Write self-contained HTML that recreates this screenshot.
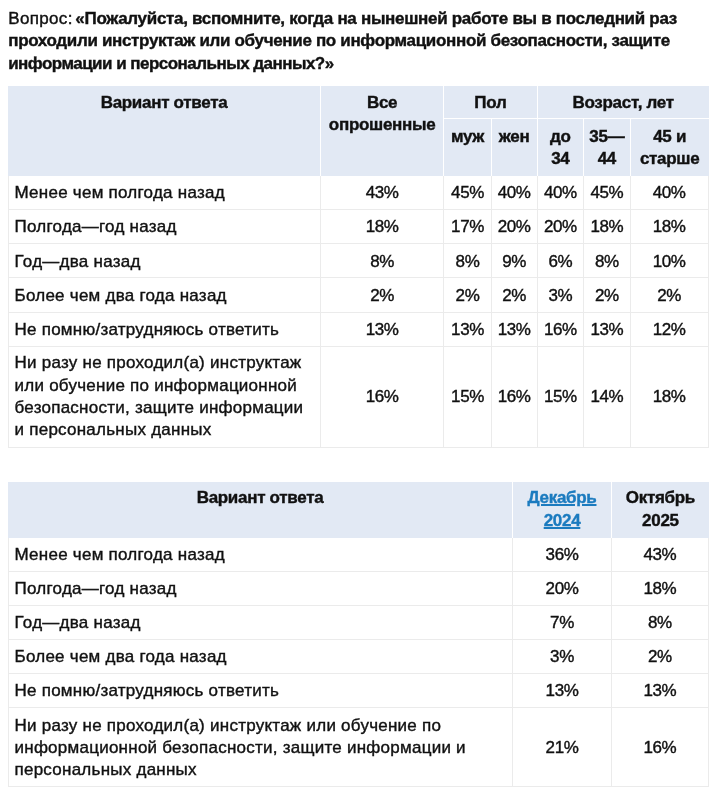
<!DOCTYPE html>
<html lang="ru">
<head>
<meta charset="utf-8">
<style>
html,body{margin:0;padding:0;background:#fff;}
#wrap{position:absolute;left:0;top:0;width:720px;height:800px;will-change:transform;}
body{width:720px;height:800px;overflow:hidden;position:relative;
  font-family:"Liberation Sans","DejaVu Sans",sans-serif;font-size:17px;line-height:22.4px;color:#111;-webkit-text-stroke-width:0.4px;}
.q{position:absolute;left:8.2px;top:8px;width:700px;margin:0;}
.q .l1{letter-spacing:-0.305px;}
.q .l2{letter-spacing:-0.33px;}
.q .l3{letter-spacing:-0.53px;}
.v{letter-spacing:0.35px;margin-right:-2.2px;}
table{position:absolute;border-collapse:separate;border-spacing:0;table-layout:fixed;}
th{background:#e2e9f4;font-weight:bold;white-space:nowrap;vertical-align:top;text-align:center;padding:0 4px;letter-spacing:-0.3px;border-right:1px solid #fff;}
th.last{border-right:0;}
th.r1{border-bottom:1px solid #fff;}
td{border-right:1px solid #ebebeb;border-bottom:1px solid #ebebeb;padding:2px 4px 0;letter-spacing:-0.4px;vertical-align:middle;text-align:center;}
td.l{text-align:left;padding-left:5.5px;letter-spacing:0.25px;border-left:1px solid #ebebeb;}
#t1{left:8px;top:86px;width:700.8px;}
#t2{left:8px;top:482px;width:700.8px;}
.p1{padding-top:5.5px;}
.p2{padding-top:6.6px;}
.p3{padding-top:5.4px;}
tr.b{height:34.14px;}
tr.b4{height:101.5px;}
tr.b4 td{padding-top:0.4px;}
tr.b3{height:79.3px;}
a{color:#1b7bbf;text-decoration:underline;text-decoration-thickness:1.6px;text-underline-offset:1.2px;}
</style>
</head>
<body>
<div id="wrap">
<p class="q"><span class="v">Вопрос:</span> <b class="l1">«Пожалуйста, вспомните, когда на нынешней работе вы в последний раз</b><br><b class="l2">проходили инструктаж или обучение по информационной безопасности, защите</b><br><b class="l3">информации и персональных данных?»</b></p>

<table id="t1">
<colgroup><col style="width:313px"><col style="width:123.25px"><col style="width:47.5px"><col style="width:45.75px"><col style="width:46.75px"><col style="width:46.25px"><col style="width:78.3px"></colgroup>
<tr style="height:33px"><th rowspan="2" class="p1">Вариант ответа</th><th rowspan="2" class="p1">Все<br>опрошенные</th><th colspan="2" class="r1 p1">Пол</th><th colspan="3" class="r1 p1 last">Возраст, лет</th></tr>
<tr style="height:57px"><th class="p2">муж</th><th class="p2">жен</th><th class="p2">до<br>34</th><th class="p2">35—<br>44</th><th class="p2 last">45 и<br>старше</th></tr>
<tr class="b"><td class="l">Менее чем полгода назад</td><td>43%</td><td>45%</td><td>40%</td><td>40%</td><td>45%</td><td>40%</td></tr>
<tr class="b"><td class="l">Полгода—год назад</td><td>18%</td><td>17%</td><td>20%</td><td>20%</td><td>18%</td><td>18%</td></tr>
<tr class="b"><td class="l">Год—два назад</td><td>8%</td><td>8%</td><td>9%</td><td>6%</td><td>8%</td><td>10%</td></tr>
<tr class="b"><td class="l">Более чем два года назад</td><td>2%</td><td>2%</td><td>2%</td><td>3%</td><td>2%</td><td>2%</td></tr>
<tr class="b"><td class="l">Не помню/затрудняюсь ответить</td><td>13%</td><td>13%</td><td>13%</td><td>16%</td><td>13%</td><td>12%</td></tr>
<tr class="b4"><td class="l">Ни разу не проходил(а) инструктаж<br>или обучение по информационной<br>безопасности, защите информации<br>и персональных данных</td><td>16%</td><td>15%</td><td>16%</td><td>15%</td><td>14%</td><td>18%</td></tr>
</table>

<table id="t2">
<colgroup><col style="width:505px"><col style="width:99px"><col style="width:96.8px"></colgroup>
<tr style="height:55.5px"><th class="p3">Вариант ответа</th><th class="p3"><a>Декабрь<br>2024</a></th><th class="p3 last">Октябрь<br>2025</th></tr>
<tr class="b"><td class="l">Менее чем полгода назад</td><td>36%</td><td>43%</td></tr>
<tr class="b"><td class="l">Полгода—год назад</td><td>20%</td><td>18%</td></tr>
<tr class="b"><td class="l">Год—два назад</td><td>7%</td><td>8%</td></tr>
<tr class="b"><td class="l">Более чем два года назад</td><td>3%</td><td>2%</td></tr>
<tr class="b"><td class="l">Не помню/затрудняюсь ответить</td><td>13%</td><td>13%</td></tr>
<tr class="b3"><td class="l">Ни разу не проходил(а) инструктаж или обучение по<br>информационной безопасности, защите информации и<br>персональных данных</td><td>21%</td><td>16%</td></tr>
</table>
</div>
</body>
</html>
